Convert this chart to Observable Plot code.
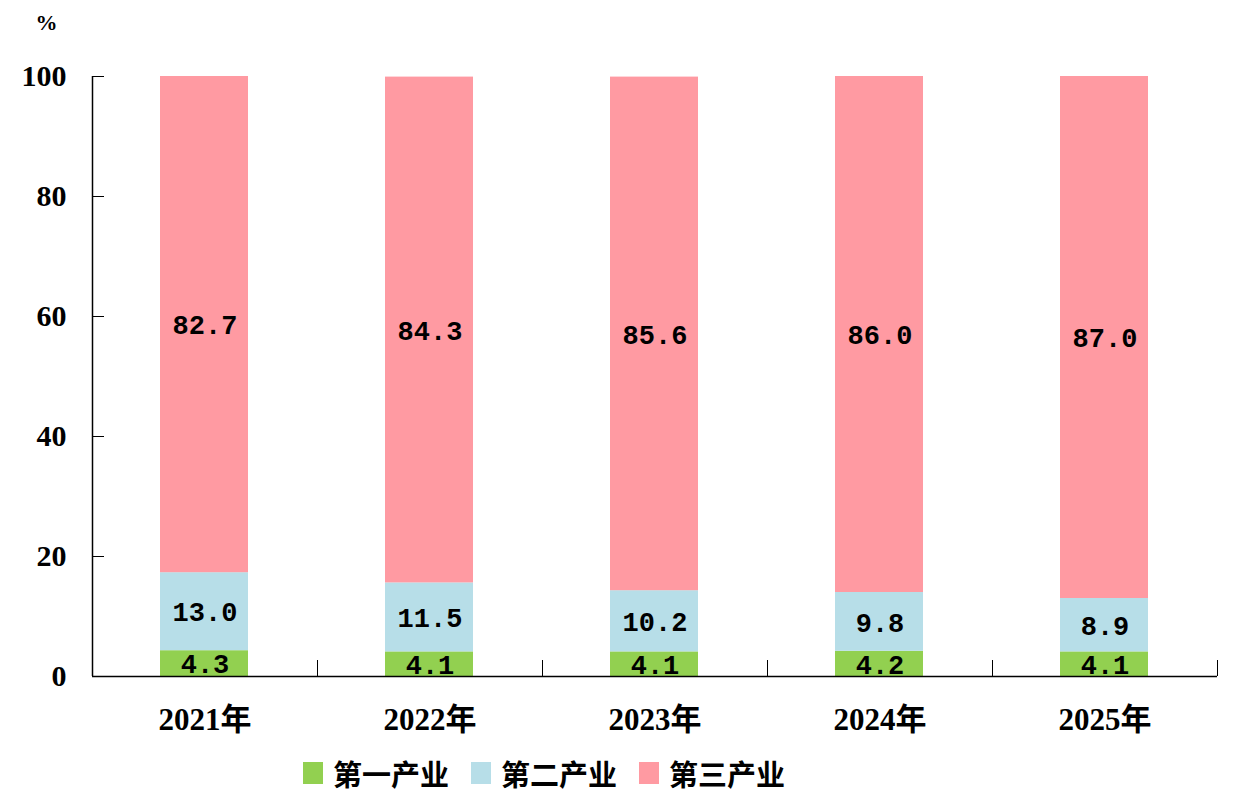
<!DOCTYPE html>
<html>
<head>
<meta charset="utf-8">
<script src="https://cdn.jsdelivr.net/npm/d3@7"></script>
<script src="https://cdn.jsdelivr.net/npm/@observablehq/plot@0.6"></script>
<style>
  body { margin: 0; background: #fff; }
  #legend { display: flex; align-items: center; height: 56px; padding-left: 303px;
    font-family: "Noto Sans CJK SC", sans-serif; font-weight: bold; font-size: 29px; color: #000; }
  .item { display: flex; align-items: center; margin-right: 22px; }
  .sw { width: 20px; height: 22px; margin-right: 10px; }
</style>
</head>
<body>
<div id="chart"></div>
<div id="legend"></div>
<script>
const years = ["2021年", "2022年", "2023年", "2024年", "2025年"];
const seriesNames = ["第一产业", "第二产业", "第三产业"];
const primary = [4.3, 4.1, 4.1, 4.2, 4.1];
const secondary = [13.0, 11.5, 10.2, 9.8, 8.9];
const tertiary = [82.7, 84.3, 85.6, 86.0, 87.0];
const colors = ["#92D050", "#B7DEE8", "#FF9AA2"];
const yTicks = [0, 20, 40, 60, 80, 100];

const seriesValues = [primary, secondary, tertiary];
const data = [];
seriesNames.forEach((s, si) => {
  years.forEach((yr, i) => {
    data.push({year: yr, idx: i, series: s, value: seriesValues[si][i]});
  });
});

const chart = Plot.plot({
  width: 1233,
  height: 745,
  marginLeft: 92,
  marginRight: 16,
  marginTop: 76,
  marginBottom: 69,
  style: {fontFamily: "'Liberation Serif', 'Noto Sans CJK SC', serif", fontWeight: "bold", color: "#000", background: "#fff"},
  x: {domain: [0, years.length], axis: null, label: null},
  y: {domain: [0, 100], axis: null, label: null},
  color: {domain: seriesNames, range: colors},
  marks: [
    Plot.rectY(data, {x1: "idx", x2: d => d.idx + 1, y: "value", fill: "series", insetLeft: 68, insetRight: 69, order: seriesNames}),
    Plot.text(data, Plot.stackY({x: d => d.idx + 0.5, y: "value", z: "series", order: seriesNames,
      text: d => d.value.toFixed(1), fontFamily: "'Liberation Mono', monospace", fontWeight: "bold",
      fontSize: 27, fill: "#000", dy: 1})),
    Plot.ruleY([0], {stroke: "#000", strokeWidth: 1.5}),
    Plot.ruleX([0], {stroke: "#000", strokeWidth: 1.5}),
    Plot.axisY(yTicks, {tickSize: -12, tickFormat: () => "", stroke: "#000", label: null}),
    Plot.axisY(yTicks, {tickSize: 0, tickPadding: 26, fontSize: 30, fontWeight: "bold", fill: "#000", label: null}),
    Plot.axisX([1, 2, 3, 4, 5], {tickSize: -16, tickFormat: () => "", stroke: "#000", label: null}),
    Plot.text(years, {x: (d, i) => i + 0.5, y: 0, text: d => d, dy: 44, fontSize: 31, fontWeight: "bold", fill: "#000"}),
    Plot.text(["%"], {frameAnchor: "top-left", dx: -57, dy: -62, text: d => d, fontSize: 22, fontWeight: "bold", fill: "#000"})
  ]
});
document.getElementById("chart").appendChild(chart);

const legend = document.getElementById("legend");
seriesNames.forEach((s, i) => {
  const it = document.createElement("div");
  it.className = "item";
  const sw = document.createElement("span");
  sw.className = "sw";
  sw.style.background = colors[i];
  const t = document.createElement("span");
  t.textContent = s;
  it.appendChild(sw); it.appendChild(t);
  legend.appendChild(it);
});
</script>
</body>
</html>
